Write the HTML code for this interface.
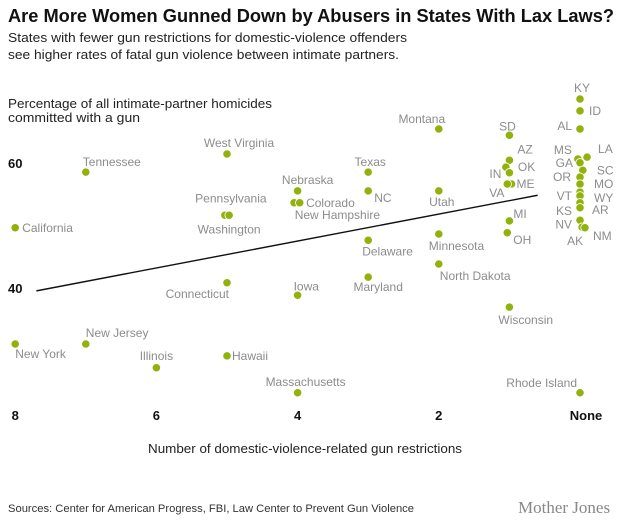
<!DOCTYPE html>
<html><head><meta charset="utf-8"><style>
body{margin:0;background:#fff;font-family:"Liberation Sans",sans-serif}
#wrap{position:relative;width:632px;height:522px;overflow:hidden}
</style></head><body>
<div id="wrap">
<svg id="svg" width="632" height="522" xmlns="http://www.w3.org/2000/svg">
<text x="8" y="22" font-size="18" font-weight="bold" fill="#111" textLength="606" lengthAdjust="spacingAndGlyphs">Are More Women Gunned Down by Abusers in States With Lax Laws?</text>
<text x="8" y="42" font-size="13" fill="#222" textLength="399" lengthAdjust="spacingAndGlyphs">States with fewer gun restrictions for domestic-violence offenders</text>
<text x="8" y="59" font-size="13" fill="#222" textLength="391" lengthAdjust="spacingAndGlyphs">see higher rates of fatal gun violence between intimate partners.</text>
<text x="8" y="108" font-size="13" fill="#222" textLength="264" lengthAdjust="spacingAndGlyphs">Percentage of all intimate-partner homicides</text>
<text x="8" y="122" font-size="13" fill="#222" textLength="132" lengthAdjust="spacingAndGlyphs">committed with a gun</text>
<text x="148" y="453" font-size="13" fill="#222" textLength="314" lengthAdjust="spacingAndGlyphs">Number of domestic-violence-related gun restrictions</text>
<text x="8" y="512" font-size="11" fill="#333" textLength="406" lengthAdjust="spacingAndGlyphs">Sources: Center for American Progress, FBI, Law Center to Prevent Gun Violence</text>
<text x="518" y="513" font-size="17" fill="#888" font-family="Liberation Serif,serif">Mother Jones</text>
<g id="axes"></g><g id="marks"></g>
</svg>
</div>
<script>
const states=["California","Tennessee","West Virginia","Pennsylvania","Washington","Connecticut","Nebraska","Colorado","New Hampshire","Iowa","Texas","NC","Delaware","Maryland","Montana","Utah","Minnesota","North Dakota","Wisconsin","Rhode Island","Hawaii","Illinois","New Jersey","New York","Massachusetts","SD","AZ","OK","IN","ME","VA","MI","OH","KY","ID","AL","MS","LA","GA","SC","OR","MO","VT","WY","KS","AR","NV","AK","NM"];
const restrictions=[8,7,5,5.03,4.97,5,4,4.05,3.97,4,3,3,3,3,2,2,2,2,1,0,5,6,7,8,4,1,1,1.05,1,0.97,1.03,1,1.03,0,0,0,0.03,-0.1,0,-0.04,0,0,0,0,0,0,0,-0.03,-0.07];
const gunPct=[49.8,58.7,61.6,51.8,51.8,41,55.7,53.8,53.8,39,58.7,55.7,47.8,41.9,65.6,55.7,48.8,44,37.1,23.4,29.3,27.4,31.2,31.2,23.4,64.6,60.6,59.5,58.6,56.8,56.8,50.9,49,70.4,68.5,65.6,60.8,61.1,60.2,59,57.9,56.8,55.5,54.9,53.8,53,51,49.9,49.8];
const xTicks=[8,6,4,2,0];
const xTickLabels=["8","6","4","2","None"];
const yTicks=[60,40];
const trendX=[7.7,0.6];
const trendY=[39.7,55];
// label placement (style): dx, dy, anchor
const labelPos=[[7,4,"start"],[-3,-6,"start"],[12,-7,"middle"],[6,-13,"middle"],[0,18,"middle"],[2,15,"end"],[10,-7,"middle"],[12,4,"start"],[-5,16,"start"],[-4,-5,"start"],[2,-6,"middle"],[6,11,"start"],[-6,15,"start"],[10,14,"middle"],[-17,-6,"middle"],[3,15,"middle"],[-10,16,"start"],[1,16,"start"],[-11,17,"start"],[-3,-6,"end"],[5,4,"start"],[0,-8,"middle"],[0,-7,"start"],[0,14,"start"],[8,-7,"middle"],[-2,-5,"middle"],[8,-7,"start"],[12,4,"start"],[-8,5,"end"],[5,4,"start"],[-18,13,"start"],[4,-3,"start"],[6,11,"start"],[2,-7,"middle"],[9,4,"start"],[-8,1,"end"],[-6,-5,"end"],[11,-4,"start"],[-7,4,"end"],[14,4,"start"],[-9,4,"end"],[14,4,"start"],[-8,8,"end"],[14,6,"start"],[-8,12,"end"],[12,6,"start"],[-8,8,"end"],[-7,18,"middle"],[8,12,"start"]];
const X=n=>580-70.6*n, Y=v=>164-(v-60)*6.25;
const NS="http://www.w3.org/2000/svg";
const axes=document.getElementById('axes'), marks=document.getElementById('marks');
xTicks.forEach((t,i)=>{const e=document.createElementNS(NS,'text');
e.setAttribute('x',X(t)+(t===0?6:0));e.setAttribute('y',420);e.setAttribute('font-size',13);e.setAttribute('font-weight','bold');e.setAttribute('text-anchor','middle');e.setAttribute('fill','#111');
e.textContent=xTickLabels[i];


axes.appendChild(e);});
yTicks.forEach(t=>{const e=document.createElementNS(NS,'text');
e.setAttribute('x',8);e.setAttribute('y',Y(t)+4);e.setAttribute('font-size',13);e.setAttribute('font-weight','bold');e.setAttribute('fill','#111');
e.textContent=t;


axes.appendChild(e);});
const l=document.createElementNS(NS,'line');
l.setAttribute('x1',X(trendX[0]));l.setAttribute('y1',Y(trendY[0]));l.setAttribute('x2',X(trendX[1]));l.setAttribute('y2',Y(trendY[1]));l.setAttribute('stroke','#111');l.setAttribute('stroke-width',1.4);


axes.appendChild(l);
states.forEach((s,i)=>{const cx=X(restrictions[i]),cy=Y(gunPct[i]);
const c=document.createElementNS(NS,'circle');
c.setAttribute('cx',cx);c.setAttribute('cy',cy);c.setAttribute('r',4.2);c.setAttribute('fill','#91b10b');c.setAttribute('stroke','#fff');c.setAttribute('stroke-width',0.8);


marks.appendChild(c);
const p=labelPos[i];const t=document.createElementNS(NS,'text');
t.setAttribute('x',cx+p[0]);t.setAttribute('y',cy+p[1]);t.setAttribute('text-anchor',p[2]);t.setAttribute('font-size',12);t.setAttribute('fill','#8c8c8c');
t.textContent=s;


marks.appendChild(t);});
</script>
</body></html>
